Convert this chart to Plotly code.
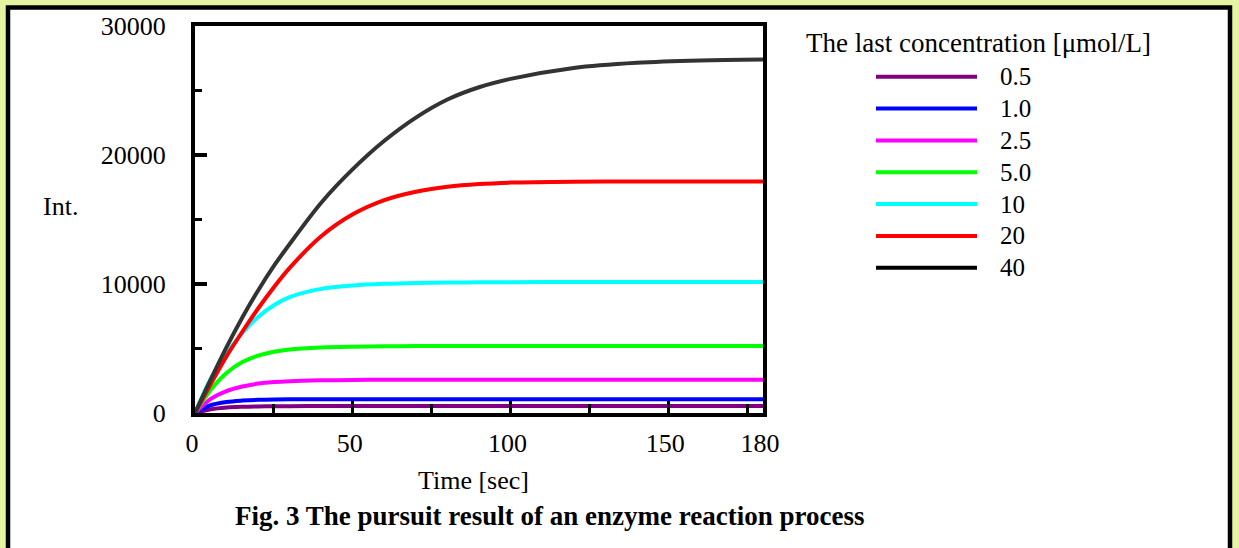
import plotly.graph_objects as go

W, H = 1239, 548

# ---------------- data ----------------
time_s = [0, 5, 10, 15, 20, 25, 30, 40, 50, 60, 70, 80, 90, 100, 120, 140, 160, 180]
conc_labels = ["0.5", "1.0", "2.5", "5.0", "10", "20", "40"]

int_0_5 = [0, 280, 420, 480, 510, 525, 532, 538, 540, 540, 540, 540, 540, 540, 540, 540, 540, 540]
int_1_0 = [0, 600, 850, 960, 1020, 1050, 1062, 1072, 1075, 1075, 1075, 1075, 1075, 1075, 1075, 1075, 1075, 1075]
int_2_5 = [0, 1100, 1700, 2050, 2280, 2400, 2470, 2530, 2560, 2575, 2580, 2580, 2580, 2580, 2580, 2580, 2580, 2580]
int_5_0 = [0, 1800, 3100, 3950, 4450, 4750, 4930, 5080, 5140, 5170, 5185, 5190, 5195, 5200, 5200, 5200, 5200, 5200]
int_10 = [0, 2650, 4600, 6200, 7450, 8350, 8980, 9620, 9880, 10010, 10080, 10110, 10130, 10140, 10150, 10150, 10150, 10150]
int_20 = [0, 2250, 4400, 6300, 8100, 9750, 11250, 13700, 15400, 16500, 17150, 17530, 17750, 17860, 17930, 17950, 17950, 17950]
int_40 = [0, 2600, 5100, 7400, 9500, 11400, 13100, 16300, 18900, 21100, 22900, 24300, 25250, 25900, 26750, 27150, 27330, 27400]

series_values = [int_0_5, int_1_0, int_2_5, int_5_0, int_10, int_20, int_40]
line_colors = ["#800080", "#0000ff", "#ff00ff", "#00ff00", "#00ffff", "#ff0000", "#333333"]
legend_colors = ["#800080", "#0000ff", "#ff00ff", "#00ff00", "#00ffff", "#ff0000", "#000000"]

x_tick_vals = [0, 50, 100, 150, 180]
y_tick_vals = [0, 10000, 20000, 30000]

# ---------------- layout geometry (pixels) ----------------
L, R, T, B = 195, 763, 24, 413
FONT = "Liberation Serif, Times New Roman, serif"


def px(xp):
    return (xp - L) / (R - L)


def py(yp):
    return (B - yp) / (B - T)


fig = go.Figure()
for lab, vals, col in zip(conc_labels, series_values, line_colors):
    fig.add_trace(go.Scatter(
        x=time_s, y=vals, mode="lines", name=lab,
        line=dict(color=col, width=4, shape="spline", smoothing=0.9),
        showlegend=False, hoverinfo="skip",
    ))

shapes = [
    dict(type="rect", xref="paper", yref="paper", layer="below",
         x0=px(8), x1=px(1230), y0=py(5.5), y1=py(551),
         line=dict(color="black", width=4.5), fillcolor="white"),
]
annotations = []

leg_y0, leg_dy = 75, 32
for i, (lab, col) in enumerate(zip(conc_labels, legend_colors)):
    yy = leg_y0 + i * leg_dy
    shapes.append(dict(type="line", xref="paper", yref="paper",
                       x0=px(876), x1=px(977), y0=py(yy), y1=py(yy),
                       line=dict(color=col, width=4)))
    annotations.append(dict(xref="paper", yref="paper", x=px(998), y=py(yy),
                            text=lab, showarrow=False, xanchor="left", yanchor="middle",
                            font=dict(family=FONT, size=25, color="black")))

annotations += [
    dict(xref="paper", yref="paper", x=px(978), y=py(41),
         text="The last concentration [\u03bcmol/L]", showarrow=False,
         xanchor="center", yanchor="middle",
         font=dict(family=FONT, size=27, color="black")),
    dict(xref="paper", yref="paper", x=px(473), y=py(481),
         text="Time [sec]", showarrow=False, xanchor="center", yanchor="middle",
         font=dict(family=FONT, size=26, color="black")),
    dict(xref="paper", yref="paper", x=px(60), y=py(205),
         text="Int.", showarrow=False, xanchor="center", yanchor="middle",
         font=dict(family=FONT, size=26, color="black")),
    dict(xref="paper", yref="paper", x=px(549), y=py(517),
         text="<b>Fig. 3 The pursuit result of an enzyme reaction process</b>",
         showarrow=False, xanchor="center", yanchor="middle",
         font=dict(family=FONT, size=27, color="black")),
]

fig.update_layout(
    width=W, height=H,
    margin=dict(l=L, r=W - R, t=T, b=H - B, pad=0),
    paper_bgcolor="#e4f4a2",
    plot_bgcolor="white",
    showlegend=False,
    hovermode=False,
    shapes=shapes,
    annotations=annotations,
    font=dict(family=FONT, size=26, color="black"),
)
fig.update_xaxes(
    range=[0, 180], tickmode="array", tickvals=x_tick_vals,
    ticks="inside", ticklen=12, tickwidth=3, tickcolor="black",
    minor=dict(tick0=0, dtick=25, ticks="inside", ticklen=9, tickwidth=3, tickcolor="black"),
    showline=True, linewidth=4, linecolor="black", mirror=True,
    showgrid=False, zeroline=False,
    tickfont=dict(family=FONT, size=26, color="black"),
    ticklabelstandoff=4, ticklabelshift=-3,
)
fig.update_yaxes(
    range=[0, 30000], tickmode="array", tickvals=y_tick_vals, tickformat="d",
    ticks="inside", ticklen=12, tickwidth=3.5, tickcolor="black",
    minor=dict(tick0=0, dtick=5000, ticks="inside", ticklen=7, tickwidth=3, tickcolor="black"),
    showline=True, linewidth=4, linecolor="black", mirror=True,
    showgrid=False, zeroline=False,
    tickfont=dict(family=FONT, size=26, color="black"),
    ticklabelstandoff=20,
)

fig.write_html(
    "out.html",
    config={"displayModeBar": False, "staticPlot": True},
    post_script="document.documentElement.style.margin='0';document.body.style.margin='0';"
                "document.body.style.overflow='hidden';",
)
